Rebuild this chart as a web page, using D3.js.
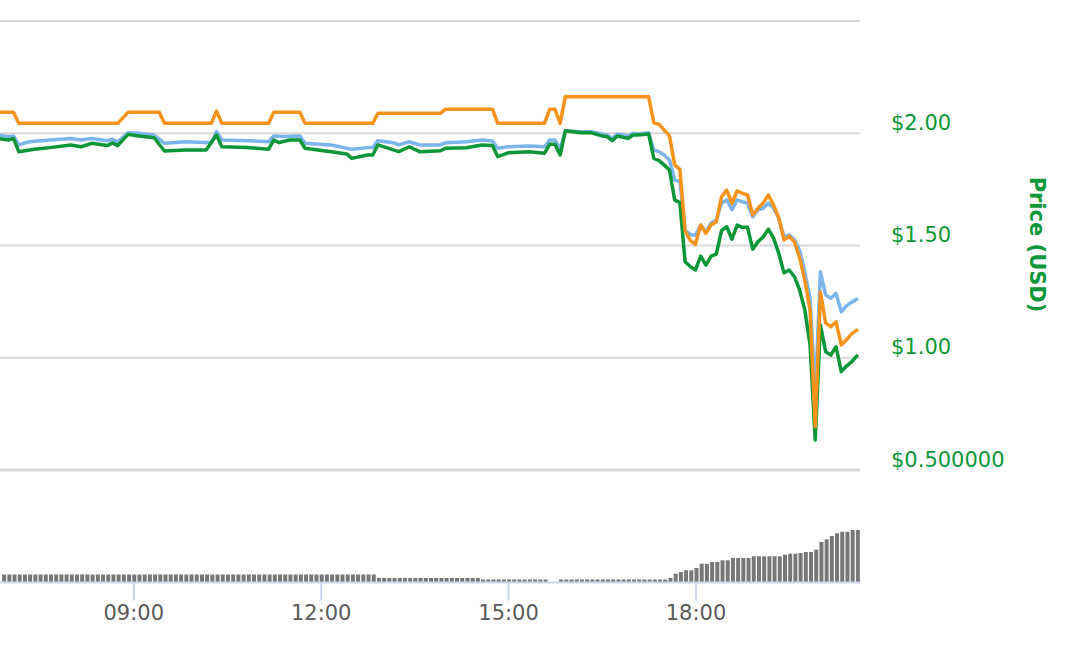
<!DOCTYPE html>
<html>
<head>
<meta charset="utf-8">
<script src="https://cdn.jsdelivr.net/npm/d3@7"></script>
<style>
  html, body { margin: 0; padding: 0; background: #ffffff; }
  svg { display: block; font-family: "DejaVu Sans", Verdana, sans-serif; }
</style>
</head>
<body>
<svg id="chart" width="1082" height="670"></svg>
<script>
// ---------------- DATA ----------------
const day = "2018-01-16";
const xDomain = ["06:52", "20:38"];
const xTickEvery = 3; // hours

const priceTicks = [0.5, 1.0, 1.5, 2.0, 2.5];
const priceTickLabels = ["$0.500000", "$1.00", "$1.50", "$2.00", ""];
const priceAxisTitle = "Price (USD)";

// Market cap (scaled to the price axis), blue
const marketCap = [
  ["06:50",1.992],["07:00",1.985],["07:05",1.988],["07:10",1.948],["07:20",1.962],["07:40",1.970],
  ["08:00",1.977],["08:10",1.970],["08:20",1.977],["08:35",1.967],["08:40",1.973],["08:45",1.962],
  ["08:55",2.002],["09:05",2.000],["09:20",1.992],["09:30",1.955],["09:50",1.962],["10:15",1.958],
  ["10:20",2.007],["10:25",1.970],["10:50",1.967],["11:10",1.962],["11:15",1.988],["11:25",1.985],
  ["11:40",1.988],["11:45",1.955],["12:10",1.948],["12:30",1.929],["12:45",1.936],["12:50",1.936],
  ["12:55",1.967],["13:10",1.958],["13:15",1.948],["13:25",1.962],["13:35",1.948],["13:55",1.948],
  ["14:00",1.958],["14:20",1.962],["14:35",1.970],["14:45",1.965],["14:50",1.933],["15:00",1.940],
  ["15:20",1.943],["15:35",1.940],["15:40",1.970],["15:45",1.970],["15:50",1.930],["15:55",2.011],
  ["16:10",2.007],["16:20",2.007],["16:30",1.997],["16:35",1.992],["16:40",1.977],["16:45",1.997],
  ["16:55",1.988],["17:00",2.000],["17:05",1.997],["17:15",2.002],["17:20",1.925],["17:25",1.918],
  ["17:30",1.903],["17:35",1.881],["17:40",1.792],["17:45",1.784],["17:50",1.567],["17:55",1.549],
  ["18:00",1.545],["18:05",1.591],["18:10",1.561],["18:15",1.599],["18:20",1.614],["18:25",1.688],
  ["18:30",1.703],["18:35",1.659],["18:40",1.703],["18:45",1.695],["18:50",1.688],["18:55",1.628],
  ["19:00",1.659],["19:05",1.666],["19:10",1.689],["19:15",1.666],["19:20",1.622],["19:25",1.539],
  ["19:30",1.547],["19:35",1.525],["19:40",1.480],["19:45",1.382],["19:50",1.266],["19:55",0.834],
  ["20:00",1.383],["20:05",1.280],["20:10",1.265],["20:15",1.287],["20:20",1.205],["20:25",1.231],
  ["20:30",1.248],["20:35",1.260]
];

// Price (USD), green
const priceUSD = [
  ["06:50",1.977],["07:00",1.970],["07:05",1.977],["07:10",1.918],["07:25",1.929],["07:40",1.936],
  ["08:00",1.948],["08:10",1.940],["08:20",1.955],["08:35",1.945],["08:40",1.957],["08:45",1.945],
  ["08:55",1.995],["09:05",1.988],["09:20",1.980],["09:30",1.921],["09:50",1.925],["10:10",1.925],
  ["10:20",1.992],["10:25",1.940],["10:50",1.936],["11:10",1.929],["11:15",1.970],["11:20",1.958],
  ["11:30",1.970],["11:40",1.970],["11:45",1.933],["12:10",1.918],["12:25",1.908],["12:30",1.888],
  ["12:45",1.903],["12:50",1.903],["12:55",1.948],["13:15",1.918],["13:25",1.940],["13:35",1.918],
  ["13:55",1.922],["14:00",1.933],["14:20",1.935],["14:35",1.948],["14:45",1.945],["14:50",1.896],
  ["15:00",1.913],["15:20",1.918],["15:35",1.911],["15:40",1.951],["15:45",1.951],["15:50",1.903],
  ["15:55",2.011],["16:10",2.002],["16:20",2.002],["16:30",1.988],["16:35",1.985],["16:40",1.967],
  ["16:45",1.988],["16:55",1.977],["17:00",1.992],["17:05",1.992],["17:15",1.997],["17:20",1.888],
  ["17:25",1.878],["17:30",1.858],["17:35",1.836],["17:40",1.703],["17:45",1.691],["17:50",1.428],
  ["17:55",1.406],["18:00",1.391],["18:05",1.453],["18:10",1.413],["18:15",1.453],["18:20",1.462],
  ["18:25",1.566],["18:30",1.584],["18:35",1.528],["18:40",1.591],["18:45",1.581],["18:50",1.581],
  ["18:55",1.483],["19:00",1.517],["19:05",1.538],["19:10",1.573],["19:15",1.533],["19:20",1.465],
  ["19:25",1.378],["19:30",1.391],["19:35",1.361],["19:40",1.302],["19:45",1.213],["19:50",1.057],
  ["19:55",0.634],["20:00",1.146],["20:05",1.027],["20:10",1.012],["20:15",1.049],["20:20",0.938],
  ["20:25",0.963],["20:30",0.982],["20:35",1.008]
];

// Price (BTC, scaled to the price axis), orange
const priceBTC = [
  ["06:50",2.093],["07:05",2.093],["07:10",2.044],["08:45",2.044],["08:55",2.093],["09:25",2.093],
  ["09:30",2.044],["10:15",2.044],["10:20",2.099],["10:25",2.044],["11:10",2.044],["11:15",2.093],
  ["11:40",2.093],["11:45",2.044],["12:50",2.044],["12:55",2.089],["13:55",2.089],["14:00",2.107],
  ["14:45",2.107],["14:50",2.044],["15:35",2.044],["15:40",2.107],["15:45",2.107],["15:50",2.044],
  ["15:55",2.163],["17:15",2.163],["17:20",2.046],["17:25",2.040],["17:30",2.014],["17:35",1.988],
  ["17:40",1.859],["17:45",1.839],["17:50",1.567],["17:55",1.522],["18:00",1.505],["18:05",1.591],
  ["18:10",1.554],["18:15",1.591],["18:20",1.606],["18:25",1.717],["18:30",1.747],["18:35",1.688],
  ["18:40",1.744],["18:45",1.732],["18:50",1.725],["18:55",1.636],["19:00",1.666],["19:05",1.689],
  ["19:10",1.725],["19:15",1.680],["19:20",1.622],["19:25",1.525],["19:30",1.540],["19:35",1.517],
  ["19:40",1.445],["19:45",1.346],["19:50",1.213],["19:55",0.693],["20:00",1.293],["20:05",1.155],
  ["20:10",1.138],["20:15",1.160],["20:20",1.057],["20:25",1.080],["20:30",1.106],["20:35",1.123]
];

// 24h volume, one bar every 5 minutes starting 06:55 (hidden axis units)
const volumeStart = "06:55";
const volumeStepMin = 5;
const volume = [
  // 06:55 - 12:50
  15,15,15,15,15,15,15,15,15,15,15,15,15,15,15,15,15,15,15,15,15,15,15,15,
  15,15,15,15,15,15,15,15,15,15,15,15,15,15,15,15,15,15,15,15,15,15,15,15,
  15,15,15,15,15,15,15,15,15,15,15,15,15,15,15,15,15,15,15,15,15,15,15,15,
  // 12:55 - 14:30
  8,8,8,8,8,8,8,8,8,8,8,8,8,8,8,8,8,8,8,8,
  // 14:35 - 15:35
  5,5,5,5,5,5,5,5,5,5,5,5,5,
  // 15:40 - 15:45
  0,0,
  // 15:50 - 17:30
  5,5,5,5,5,5,5,5,5,5,5,5,5,5,5,5,5,5,5,5,5,
  // 17:35
  8,
  // 17:40 - 20:35
  16.6,20,23.4,23.4,28,36.6,36.6,40,40,43.4,43.4,48,48,48,48,51.4,51.4,51.4,
  51.4,51.4,51.4,54.6,56.6,56.6,58,60,60,64.6,80,85.4,92,97.4,100.6,100.6,104,104
];
const volumeMax = 120;

// ---------------- CHART ----------------
const parse = d3.timeParse("%Y-%m-%d %H:%M");
const T = s => parse(day + " " + s);

const plotLeft = 0, plotRight = 860;
const priceTop = 21, priceBottom = 470;
const volTop = 522, volBottom = 582;

const colors = { cap: "#7cb5ec", usd: "#0b9637", btc: "#f7931a", vol: "#777777",
                 grid: "#d8d8d8", axis: "#ccd6eb", label: "#5a5a5a" };

const x = d3.scaleTime().domain(xDomain.map(T)).range([plotLeft, plotRight]);
const y = d3.scaleLinear().domain([0.5, 2.5]).range([priceBottom, priceTop]);
const yv = d3.scaleLinear().domain([0, volumeMax]).range([volBottom, volTop]);

const svg = d3.select("#chart");
svg.append("rect").attr("width", 1082).attr("height", 670).attr("fill", "#fff");

svg.append("defs").append("clipPath").attr("id", "clip")
  .append("rect").attr("x", plotLeft).attr("y", 0).attr("width", plotRight - plotLeft).attr("height", 670);

// Price grid lines
svg.append("g").selectAll("line").data(priceTicks).join("line")
  .attr("x1", plotLeft).attr("x2", plotRight)
  .attr("y1", d => y(d)).attr("y2", d => y(d))
  .attr("stroke", colors.grid)
  .attr("stroke-width", d => d === 0.5 ? 3 : 2);

// Right price axis labels
svg.append("g").selectAll("text").data(priceTicks).join("text")
  .attr("x", 891).attr("y", d => y(d) - 3.5)
  .attr("fill", colors.usd).attr("font-size", 21)
  .text((d, i) => priceTickLabels[i]);

svg.append("text")
  .attr("transform", `translate(1030,${(y(1.5)) - 1}) rotate(90)`)
  .attr("text-anchor", "middle")
  .attr("fill", colors.usd).attr("font-size", 21).attr("font-weight", "bold")
  .text(priceAxisTitle);

// Lines
const line = d3.line().x(d => x(T(d[0]))).y(d => y(d[1]));
const lines = svg.append("g").attr("clip-path", "url(#clip)");
[[marketCap, colors.cap], [priceUSD, colors.usd], [priceBTC, colors.btc]].forEach(([data, c]) => {
  lines.append("path").datum(data).attr("d", line)
    .attr("fill", "none").attr("stroke", c).attr("stroke-width", 3.5)
    .attr("stroke-linejoin", "round").attr("stroke-linecap", "round");
});

// Volume bars
const t0 = T(volumeStart);
const volData = volume.map((v, i) => ({ t: d3.timeMinute.offset(t0, i * volumeStepMin), v }));
const barW = 4;
svg.append("g").attr("clip-path", "url(#clip)").selectAll("rect").data(volData).join("rect")
  .attr("x", d => x(d.t) - barW / 2 + 1)
  .attr("width", barW)
  .attr("y", d => yv(d.v))
  .attr("height", d => volBottom - yv(d.v))
  .attr("fill", colors.vol);

// X axis
const xAxis = d3.axisBottom(x)
  .ticks(d3.timeHour.every(xTickEvery))
  .tickFormat(d3.timeFormat("%H:%M"))
  .tickSize(18).tickPadding(5);
const gx = svg.append("g").attr("transform", `translate(0,${volBottom + 0.5})`).call(xAxis);
gx.select(".domain").remove();
gx.append("line").attr("x1", plotLeft).attr("x2", plotRight).attr("y1", 0).attr("y2", 0)
  .attr("stroke", colors.axis).attr("stroke-width", 2);
gx.selectAll(".tick line").attr("stroke", colors.axis).attr("stroke-width", 2);
gx.selectAll(".tick text").attr("fill", colors.label).attr("font-size", 21)
  .attr("font-family", "DejaVu Sans, Verdana, sans-serif");
</script>
</body>
</html>
